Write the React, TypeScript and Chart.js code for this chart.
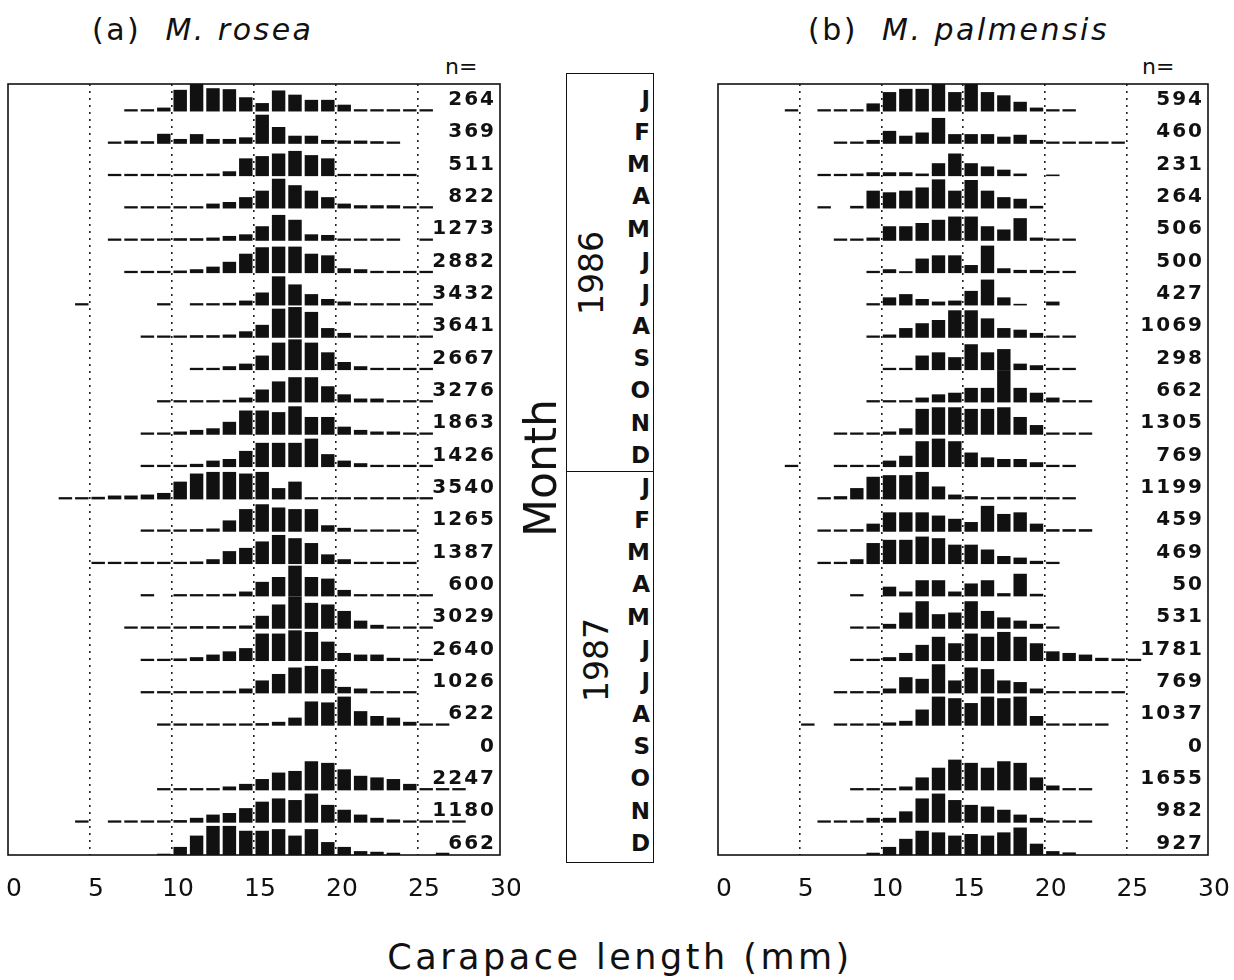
import React, { useEffect, useRef } from 'react';
import { Chart, registerables } from 'chart.js';

Chart.register(...registerables);

// ---------------- DATA ----------------
const MONTHS = ['J', 'F', 'M', 'A', 'M', 'J', 'J', 'A', 'S', 'O', 'N', 'D', 'J', 'F', 'M', 'A', 'M', 'J', 'J', 'A', 'S', 'O', 'N', 'D'];
const YEARS = ['1986', '1987'];
const X_TICKS = [0, 5, 10, 15, 20, 25, 30];

const roseaN = [264, 369, 511, 822, 1273, 2882, 3432, 3641, 2667, 3276, 1863, 1426, 3540, 1265, 1387, 600, 3029, 2640, 1026, 622, 0, 2247, 1180, 662];
const palmN = [594, 460, 231, 264, 506, 500, 427, 1069, 298, 662, 1305, 769, 1199, 459, 469, 50, 531, 1781, 769, 1037, 0, 1655, 982, 927];

// first 1-mm size class (mm) of each monthly histogram
const roseaStart = [7, 6, 6, 7, 6, 7, 4, 8, 11, 9, 8, 8, 3, 8, 5, 8, 7, 8, 8, 9, 0, 9, 4, 9];
// relative frequency of each 1-mm class (% of row height)
const roseaFreq = [
  [7, 7, 12, 67, 86, 72, 69, 44, 26, 65, 52, 36, 36, 21, 7, 7, 7, 7, 7],
  [7, 10, 8, 31, 15, 30, 15, 15, 20, 90, 52, 25, 25, 12, 10, 10, 8, 7],
  [7, 7, 7, 7, 7, 7, 8, 15, 55, 62, 70, 78, 65, 55, 7, 7, 7, 7, 7],
  [7, 7, 7, 7, 7, 15, 20, 35, 55, 92, 72, 55, 35, 15, 10, 10, 10, 7, 7],
  [7, 7, 7, 7, 8, 8, 10, 15, 20, 45, 80, 65, 20, 18, 7, 7, 7, 7, 0, 7],
  [7, 7, 7, 8, 12, 20, 35, 60, 80, 82, 82, 60, 55, 15, 12, 7, 7, 7, 7],
  [7, 0, 0, 0, 0, 7, 0, 7, 7, 8, 15, 40, 90, 65, 35, 20, 12, 7, 7, 7, 7, 7],
  [7, 7, 7, 8, 8, 10, 20, 40, 90, 95, 80, 30, 15, 7, 7, 7, 7, 7],
  [7, 7, 12, 20, 45, 85, 95, 85, 55, 25, 12, 7, 7, 7, 7],
  [7, 7, 7, 7, 8, 15, 40, 65, 78, 78, 50, 25, 12, 12, 7, 7, 7],
  [7, 7, 10, 15, 20, 40, 75, 75, 70, 88, 55, 55, 25, 15, 10, 10, 7, 7],
  [7, 7, 7, 10, 20, 25, 50, 75, 75, 75, 88, 40, 20, 12, 7, 7, 7, 7],
  [7, 7, 8, 12, 12, 15, 20, 55, 80, 85, 85, 80, 85, 35, 55, 7, 7, 7, 7, 7, 7, 7, 7],
  [7, 7, 7, 8, 10, 35, 70, 85, 75, 70, 70, 20, 12, 7, 7, 7, 7],
  [7, 7, 7, 7, 7, 7, 8, 15, 40, 50, 70, 90, 80, 65, 30, 15, 7, 7, 7, 7],
  [7, 0, 7, 7, 7, 8, 15, 45, 60, 95, 60, 55, 20, 7, 7, 7, 7, 7],
  [7, 7, 7, 7, 8, 8, 8, 10, 40, 75, 100, 80, 75, 55, 25, 12, 7, 7, 7],
  [7, 7, 8, 12, 20, 30, 40, 85, 85, 95, 90, 60, 25, 20, 20, 10, 8, 7],
  [7, 7, 7, 7, 7, 8, 15, 40, 60, 80, 85, 75, 20, 15, 7, 7, 7],
  [7, 7, 7, 7, 7, 7, 8, 12, 25, 75, 72, 90, 45, 30, 25, 12, 7, 7],
  [],
  [7, 7, 7, 7, 12, 20, 35, 55, 60, 90, 85, 65, 45, 40, 35, 20, 7, 7, 7],
  [7, 0, 7, 7, 7, 7, 8, 15, 25, 30, 45, 65, 75, 70, 90, 55, 40, 25, 15, 10, 7, 7, 7, 7],
  [4, 25, 60, 90, 90, 75, 75, 80, 60, 80, 40, 25, 12, 10, 7, 0, 0, 7],
];

const palmStart = [4, 7, 6, 6, 7, 9, 9, 9, 10, 9, 7, 4, 6, 6, 6, 8, 8, 8, 7, 5, 0, 8, 6, 9];
const palmFreq = [
  [7, 0, 7, 7, 7, 25, 60, 70, 70, 85, 60, 88, 60, 50, 30, 12, 7, 7],
  [7, 7, 12, 40, 25, 35, 80, 30, 30, 30, 22, 28, 12, 7, 7, 7, 7, 7],
  [7, 7, 8, 12, 12, 12, 8, 40, 70, 40, 30, 20, 8, 0, 5],
  [7, 0, 8, 55, 50, 55, 65, 90, 55, 88, 55, 35, 30, 8],
  [7, 7, 10, 45, 45, 55, 65, 75, 75, 45, 35, 70, 10, 7, 7],
  [7, 12, 6, 45, 55, 55, 25, 85, 15, 10, 10, 7, 7],
  [7, 25, 35, 20, 12, 15, 45, 80, 25, 5, 0, 12],
  [7, 10, 30, 45, 55, 85, 85, 60, 30, 25, 15, 7, 7],
  [7, 7, 45, 55, 40, 80, 55, 65, 20, 15, 7, 7],
  [7, 7, 7, 15, 25, 30, 45, 45, 100, 45, 30, 15, 7, 7],
  [7, 7, 7, 10, 20, 80, 85, 85, 80, 80, 85, 55, 30, 7, 7, 7],
  [7, 0, 0, 7, 7, 7, 20, 35, 80, 88, 80, 45, 30, 25, 25, 15, 7, 7],
  [7, 10, 35, 70, 75, 75, 85, 40, 15, 10, 7, 8, 8, 8, 7, 7],
  [7, 7, 8, 25, 60, 60, 60, 50, 40, 30, 80, 55, 60, 25, 8, 8, 8],
  [7, 7, 15, 65, 75, 75, 85, 80, 60, 60, 45, 25, 20, 10, 7],
  [7, 0, 30, 15, 50, 50, 15, 40, 50, 10, 70, 8],
  [7, 7, 15, 50, 85, 45, 50, 85, 55, 35, 25, 15, 7],
  [7, 7, 12, 25, 50, 75, 55, 85, 75, 90, 75, 55, 30, 25, 20, 10, 8, 7],
  [7, 7, 7, 15, 50, 45, 90, 40, 80, 75, 40, 35, 15, 7, 7, 7, 7, 7],
  [7, 0, 7, 7, 7, 10, 15, 50, 90, 85, 70, 90, 85, 90, 30, 7, 7, 7, 7],
  [],
  [7, 7, 7, 12, 40, 70, 95, 85, 70, 90, 85, 40, 15, 7, 7],
  [7, 7, 7, 15, 15, 35, 75, 90, 70, 55, 50, 40, 25, 15, 7, 7, 7],
  [7, 25, 50, 75, 70, 60, 65, 60, 70, 85, 35, 12, 8],
];

// ---------------- LAYOUT ----------------
const FONT = '"DejaVu Sans", "Liberation Sans", sans-serif';
const INK = '#111';
const ROWS = 24;
const Y_MAX = 23.85;
const PLOT_TOP = 84;
const PLOT_BOTTOM = 855;
const ROW_PX = (PLOT_BOTTOM - PLOT_TOP) / Y_MAX;
const rowLabelY = (i: number) => PLOT_BOTTOM - (ROWS - 1 - i) * ROW_PX - 12;

function buildDatasets(start: number[], freq: number[][]) {
  return freq.map((row, i) => {
    const base = ROWS - 1 - i;
    return {
      label: MONTHS[i] + i,
      data: row
        .map((v, j) => ({ x: start[i] + j + 0.5, y: [base, base + v / 100] }))
        .filter((d) => d.y[1] > d.y[0]),
      backgroundColor: INK,
      borderWidth: 0,
      barPercentage: 0.82,
      categoryPercentage: 1,
      grouped: false,
    };
  });
}

const boxPlugin = {
  id: 'box',
  afterDraw(chart: any) {
    const { ctx, chartArea: a } = chart;
    ctx.save();
    ctx.strokeStyle = INK;
    ctx.lineWidth = 1.6;
    ctx.strokeRect(a.left, a.top, a.right - a.left, a.bottom - a.top);
    ctx.restore();
  },
};

function makeNPlugin(ns: number[]) {
  return {
    id: 'nlabels',
    afterDatasetsDraw(chart: any) {
      const { ctx, chartArea: a, scales } = chart;
      const y = scales.y;
      ctx.save();
      ctx.font = `bold 20px ${FONT}`;
      (ctx as any).letterSpacing = '2px';
      ctx.fillStyle = INK;
      ctx.textAlign = 'right';
      ctx.textBaseline = 'middle';
      ns.forEach((n, i) => {
        const base = ROWS - 1 - i;
        ctx.fillText(String(n), a.right - 4, y.getPixelForValue(base + 0.36));
      });
      ctx.restore();
    },
  };
}

type PanelProps = {
  left: number;
  width: number;
  padLeft: number;
  padRight: number;
  start: number[];
  freq: number[][];
  ns: number[];
};

function Panel({ left, width, padLeft, padRight, start, freq, ns }: PanelProps) {
  const ref = useRef<HTMLCanvasElement | null>(null);
  useEffect(() => {
    if (!ref.current) return;
    const chart = new Chart(ref.current, {
      type: 'bar',
      data: { datasets: buildDatasets(start, freq) as any },
      options: {
        animation: false,
        responsive: false,
        devicePixelRatio: 1,
        layout: { padding: { left: padLeft, right: padRight, top: PLOT_TOP, bottom: 930 - PLOT_BOTTOM - 50 } },
        plugins: { legend: { display: false }, tooltip: { enabled: false } },
        scales: {
          x: {
            type: 'linear',
            min: 0,
            max: 30,
            offset: false,
            position: 'bottom',
            afterBuildTicks: (s: any) => {
              s.ticks = X_TICKS.map((v) => ({ value: v }));
            },
            afterFit: (s: any) => {
              s.height = 50;
              s.paddingLeft = 0;
              s.paddingRight = 0;
            },
            ticks: {
              font: { family: FONT, size: 25 },
              color: INK,
              padding: 19,
              labelOffset: 6,
              maxRotation: 0,
              autoSkip: false,
            },
            grid: {
              offset: false,
              drawTicks: false,
              lineWidth: 1.6,
              color: (c: any) => (c.tick && (c.tick.value === 0 || c.tick.value === 30) ? 'rgba(0,0,0,0)' : '#222'),
            },
            border: { display: false, dash: [2, 5] },
          } as any,
          y: { type: 'linear', min: 0, max: Y_MAX, display: false },
        },
      },
      plugins: [boxPlugin, makeNPlugin(ns)],
    });
    return () => chart.destroy();
  }, []);
  return <canvas ref={ref} width={width} height={930} style={{ position: 'absolute', left, top: 0 }} />;
}

const abs = (style: React.CSSProperties): React.CSSProperties => ({ position: 'absolute', whiteSpace: 'nowrap', lineHeight: 1, ...style });

export default function App() {
  return (
    <div style={{ position: 'absolute', left: 0, top: 0, width: 1234, height: 980, background: '#fff', color: INK, fontFamily: FONT, overflow: 'hidden' }}>
      {/* titles */}
      <div style={abs({ left: 92, top: 15, fontSize: 30, letterSpacing: 2.5 })}>
        (a)&nbsp; <i>M. rosea</i>
      </div>
      <div style={abs({ left: 808, top: 15, fontSize: 30, letterSpacing: 2.5 })}>
        (b)&nbsp; <i>M. palmensis</i>
      </div>
      <div style={abs({ left: 445, top: 56, fontSize: 22 })}>n=</div>
      <div style={abs({ left: 1142, top: 56, fontSize: 22 })}>n=</div>

      <Panel left={0} width={520} padLeft={8} padRight={20} start={roseaStart} freq={roseaFreq} ns={roseaN} />
      <Panel left={700} width={530} padLeft={18} padRight={22} start={palmStart} freq={palmFreq} ns={palmN} />

      {/* month box */}
      <div style={{ position: 'absolute', left: 566, top: 73, width: 88, height: 790, border: '1.6px solid #111', boxSizing: 'border-box' }} />
      <div style={{ position: 'absolute', left: 566, top: 471, width: 88, height: 0, borderTop: '1.6px solid #111' }} />
      {MONTHS.map((m, i) => (
        <div key={i} style={abs({ left: 600, width: 50, textAlign: 'right', top: rowLabelY(i) - 11, fontSize: 23, fontWeight: 'bold' })}>
          {m}
        </div>
      ))}
      <div style={abs({ left: 591, top: 273, fontSize: 33, transform: 'translate(-50%, -50%) rotate(-90deg)' })}>{YEARS[0]}</div>
      <div style={abs({ left: 596, top: 660, fontSize: 33, transform: 'translate(-50%, -50%) rotate(-90deg)' })}>{YEARS[1]}</div>
      <div style={abs({ left: 541, top: 468, fontSize: 44, transform: 'translate(-50%, -50%) rotate(-90deg)' })}>Month</div>

      <div style={abs({ left: 620, top: 957, fontSize: 35, letterSpacing: 3.5, transform: 'translate(-50%, -50%)' })}>Carapace length (mm)</div>
    </div>
  );
}
